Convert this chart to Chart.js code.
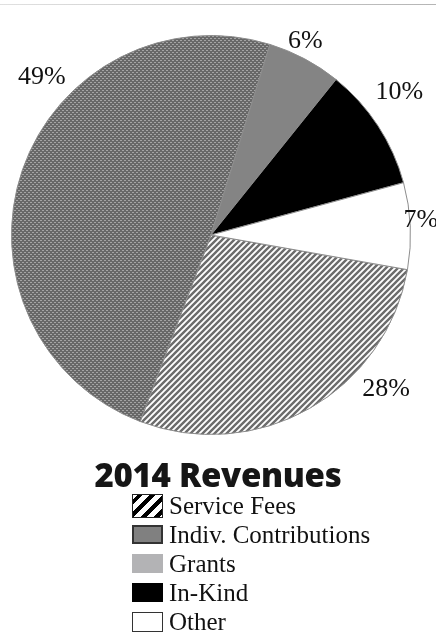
<!DOCTYPE html>
<html>
<head>
<meta charset="utf-8">
<script src="https://cdn.jsdelivr.net/npm/chart.js@4.4.1/dist/chart.umd.min.js"></script>
<style>
    html, body { margin: 0; padding: 0; background: #fff; }
    #page { position: relative; width: 436px; height: 642px; overflow: hidden; }
    #topRule { position: absolute; left: 0; top: 4px; width: 436px; height: 1px;
        background: linear-gradient(to right, #e0e0e0, #b5b5b5); }
    #revenueChart { position: absolute; left: 0; top: 0; }
    #title { position: absolute; left: 0; width: 436px; top: 452px; text-align: center;
        font-family: "Open Sans", sans-serif; font-weight: 800; font-size: 33px;
        color: #161616; padding-left: 0px; letter-spacing: -0.3px; }
    #legend { position: absolute; left: 132px; top: 491px; }
    .legend-row { height: 29px; display: flex; align-items: center; }
    .legend-row span { font-family: "Liberation Serif", "Times New Roman", serif;
        font-size: 25px; color: #111; margin-left: 6px; line-height: 1; }
    .swatch { width: 31px; height: 19px; box-sizing: border-box; }
</style>
</head>
<body>
<div id="page">
    <div id="topRule"></div>
    <canvas id="revenueChart" width="436" height="470"></canvas>
    <div id="title">2014 Revenues</div>
    <div id="legend"></div>
</div>
<script>
    // Revenue shares, clockwise from the bottom-right
    const categories = ['Service Fees', 'Indiv. Contributions', 'Grants', 'In-Kind', 'Other'];
    const shares = [28, 49, 6, 10, 7];
    const shareLabels = ['28%', '49%', '6%', '10%', '7%'];

    // Where each percentage sits, relative to its slice's middle
    const labelAngleShift = [-19, 24, -2, -4, -1.5];
    const labelRadiusFactor = [1.17, 1.16, 1.08, 1.185, 1.055];

    const labelFont = '26px "Liberation Serif", "Times New Roman", serif';

    function makeTile(size, draw) {
        const c = document.createElement('canvas');
        c.width = size;
        c.height = size;
        const g = c.getContext('2d');
        draw(g);
        return g.createPattern(c, 'repeat');
    }

    const ctx = document.getElementById('revenueChart').getContext('2d');

    // Diagonal gray hatch for service fees
    const hatchFill = makeTile(6, g => {
        g.fillStyle = '#fff';
        g.fillRect(0, 0, 6, 6);
        g.strokeStyle = '#6c6c6c';
        g.lineWidth = 2.4;
        g.beginPath();
        g.moveTo(-1, 7); g.lineTo(7, -1);
        g.moveTo(-4, 4); g.lineTo(4, -4);
        g.moveTo(2, 10); g.lineTo(10, 2);
        g.stroke();
    });

    // Dotted dark gray texture for contributions
    const dotFill = makeTile(4, g => {
        g.fillStyle = '#686868';
        g.fillRect(0, 0, 4, 4);
        g.fillStyle = '#a4a4a4';
        g.fillRect(0, 0, 2, 1);
        g.fillRect(2, 2, 2, 1);
    });

    const sliceColors = [hatchFill, dotFill, '#848484', '#000000', '#ffffff'];

    const percentLabels = {
        id: 'percentLabels',
        afterDatasetsDraw(chart) {
            const c = chart.ctx;
            const arcs = chart.getDatasetMeta(0).data;
            c.save();
            c.font = labelFont;
            c.fillStyle = '#111';
            c.textAlign = 'center';
            c.textBaseline = 'middle';
            arcs.forEach((arc, i) => {
                const p = arc.getProps(['x', 'y', 'startAngle', 'endAngle', 'outerRadius'], true);
                const mid = (p.startAngle + p.endAngle) / 2 + labelAngleShift[i] * Math.PI / 180;
                const r = p.outerRadius * labelRadiusFactor[i];
                c.fillText(shareLabels[i], p.x + Math.cos(mid) * r, p.y + Math.sin(mid) * r);
            });
            c.restore();
        }
    };

    function drawChart() {
        new Chart(ctx, {
            type: 'pie',
            data: {
                labels: categories,
                datasets: [{
                    data: shares,
                    backgroundColor: sliceColors,
                    borderColor: '#8c8c8c',
                    borderWidth: 1
                }]
            },
            options: {
                responsive: false,
                animation: false,
                rotation: 100,
                layout: { padding: { left: 11, right: 25, top: 35, bottom: 35 } },
                plugins: {
                    legend: { display: false },
                    tooltip: { enabled: false }
                }
            },
            plugins: [percentLabels]
        });
    }

    // Make sure the serif face is ready before the canvas text goes down
    document.fonts.load(labelFont).then(drawChart, drawChart);

    // Legend swatches, drawn like the printed key
    const swatchStyles = [
        'border:1px solid #222;height:24px;background:repeating-linear-gradient(135deg,#fff 0 3px,#000 3px 7px,#fff 7px 9px);',
        'border:2px solid #333;background:#808080;',
        'background:#b3b3b5;',
        'background:#000;',
        'border:1.5px solid #333;background:#fff;height:20px;'
    ];

    const legend = document.getElementById('legend');
    categories.forEach((name, i) => {
        const row = document.createElement('div');
        row.className = 'legend-row';
        row.innerHTML = `<div class="swatch" style="${swatchStyles[i]}"></div><span>${name}</span>`;
        legend.appendChild(row);
    });
</script>
</body>
</html>
